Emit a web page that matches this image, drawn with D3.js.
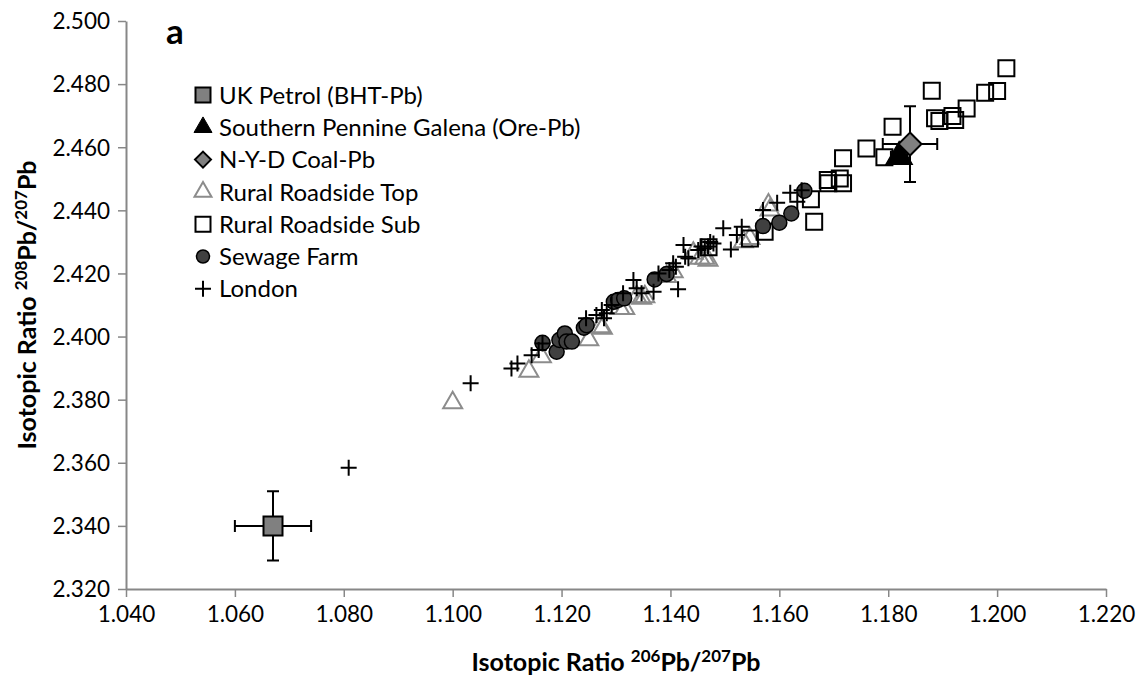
<!DOCTYPE html>
<html><head><meta charset="utf-8">
<script src="https://cdn.jsdelivr.net/npm/d3@7"></script>
<style>
html,body{margin:0;padding:0;background:#fff;}
svg text{font-family:Lato,"Open Sans",sans-serif;fill:#000;}
</style></head>
<body><svg id="chart" width="1144" height="684"></svg>
<script>
// ---- data ----
const xTicks = [1.04,1.06,1.08,1.10,1.12,1.14,1.16,1.18,1.20,1.22];
const yTicks = [2.32,2.34,2.36,2.38,2.40,2.42,2.44,2.46,2.48,2.50];
const seriesNames = ["UK Petrol (BHT-Pb)","Southern Pennine Galena (Ore-Pb)","N-Y-D Coal-Pb","Rural Roadside Top","Rural Roadside Sub","Sewage Farm","London"];

const ukPetrol = [[1.067,2.340,0.007,0.011]];
const pennine = [[1.182,2.457,0.0015,0.0015]];
const nydCoal = [[1.184,2.461,0.005,0.012]];
const ruralTop = [
 [1.100,2.379],[1.114,2.389],[1.1163,2.3936],[1.125,2.399],[1.1271,2.4031],[1.1275,2.4026],
 [1.1307,2.4089],[1.1316,2.4089],[1.1338,2.4126],[1.1347,2.4121],[1.1353,2.4126],[1.1393,2.4190],
 [1.1405,2.4205],[1.1442,2.4264],[1.1454,2.4248],[1.1463,2.4248],[1.1469,2.4242],[1.1534,2.4300],
 [1.1546,2.4311],[1.1580,2.4417],[1.1583,2.4401]];
const ruralSub = [
 [1.2017,2.4850],[1.1880,2.4779],[1.2000,2.4778],[1.1978,2.4773],[1.1944,2.4723],[1.1886,2.4692],
 [1.1894,2.4683],[1.1918,2.4699],[1.1923,2.4686],[1.1808,2.4665],[1.1760,2.4596],[1.1793,2.4568],
 [1.1717,2.4565],[1.1689,2.4496],[1.1711,2.4501],[1.1717,2.4486],[1.1690,2.4486],[1.1658,2.4435],
 [1.1664,2.4364],[1.1573,2.4332],[1.1546,2.4311],[1.1470,2.4283]];
const sewage = [
 [1.1165,2.3980],[1.1191,2.3952],[1.1196,2.3989],[1.1206,2.4010],[1.1209,2.3984],[1.1219,2.3984],
 [1.1241,2.4028],[1.1246,2.4036],[1.1296,2.4110],[1.1304,2.4116],[1.1315,2.4121],[1.1371,2.4181],
 [1.1393,2.4198],[1.1570,2.4350],[1.1600,2.4361],[1.1622,2.4390],[1.1646,2.4462]];
const london = [
 [1.0809,2.3584],[1.1033,2.3852],[1.1108,2.3899],[1.1119,2.3915],[1.1145,2.3941],[1.1158,2.3957],
 [1.1165,2.3978],[1.1245,2.4058],[1.1264,2.4068],[1.1274,2.4084],[1.1278,2.4058],[1.1283,2.4074],
 [1.1292,2.4100],[1.1313,2.4137],[1.1332,2.4179],[1.1338,2.4153],[1.1347,2.4137],[1.1369,2.4142],
 [1.1378,2.4200],[1.1398,2.4211],[1.1405,2.4232],[1.1410,2.4221],[1.1414,2.4150],[1.1424,2.4290],
 [1.1427,2.4253],[1.1433,2.4248],[1.1451,2.4274],[1.1457,2.4285],[1.1463,2.4280],[1.1469,2.4285],
 [1.1473,2.4300],[1.1479,2.4295],[1.1497,2.4343],[1.1511,2.4276],[1.1522,2.4322],[1.1531,2.4348],
 [1.1570,2.4401],[1.1596,2.4424],[1.1620,2.4456],[1.1633,2.4427],[1.1641,2.4464]];

// ---- layout ----
const svg = d3.select("#chart");
const L = 126, R = 1106, T = 21, B = 589;
const x = d3.scaleLinear().domain([1.04,1.22]).range([L,R]);
const y = d3.scaleLinear().domain([2.32,2.50]).range([B,T]);
const axisColor = "#878787";

// axes
const xAxis = svg.append("g").attr("transform",`translate(0,${B})`)
  .call(d3.axisBottom(x).tickValues(xTicks).tickFormat(d3.format(".3f")).tickSize(8).tickSizeOuter(0));
const yAxis = svg.append("g").attr("transform",`translate(${L},0)`)
  .call(d3.axisLeft(y).tickValues(yTicks).tickFormat(d3.format(".3f")).tickSize(8).tickSizeOuter(0));
[xAxis,yAxis].forEach(g=>{
  g.select(".domain").attr("stroke",axisColor).attr("stroke-width",2);
  g.selectAll(".tick line").attr("stroke",axisColor).attr("stroke-width",1.5);
  g.selectAll(".tick text").attr("font-size",22.5).attr("fill","#000").style("font-family","Lato");
});
xAxis.selectAll(".tick text").attr("y",14).attr("dy","0.85em");
yAxis.selectAll(".tick text").attr("x",-16).attr("dy","0.35em");

// symbol paths
function shape(type, s){
  switch(type){
    case "square": return `M${-s/2},${-s/2}h${s}v${s}h${-s}Z`;
    case "tri": { const h=s*Math.sqrt(3)/2; return `M0,${-h*2/3}L${s/2},${h/3}L${-s/2},${h/3}Z`; }
    case "diamond": return `M0,${-s}L${s},0L0,${s}L${-s},0Z`;
    case "plus": return `M${-s},0H${s}M0,${-s}V${s}`;
  }
}
const styles = {
  ukPetrol:{type:"square",size:19,fill:"#808080",stroke:"#000",sw:2},
  pennine:{type:"tri",size:26,fill:"#000",stroke:"#000",sw:1.5},
  nydCoal:{type:"diamond",size:11.5,fill:"#808080",stroke:"#000",sw:2},
  ruralTop:{type:"tri",size:19,fill:"none",stroke:"#8c8c8c",sw:2},
  ruralSub:{type:"square",size:16,fill:"none",stroke:"#000",sw:2},
  sewage:{type:"circle",size:7.5,fill:"#404040",stroke:"#000",sw:1.5},
  london:{type:"plus",size:8,fill:"none",stroke:"#000",sw:2}
};
function drawMarkers(g, data, st, cx, cy){
  const sel = g.selectAll(null).data(data).enter();
  if(st.type==="circle"){
    sel.append("circle").attr("cx",d=>cx(d)).attr("cy",d=>cy(d)).attr("r",st.size)
      .attr("fill",st.fill).attr("stroke",st.stroke).attr("stroke-width",st.sw);
  } else {
    sel.append("path").attr("d",shape(st.type,st.size))
      .attr("transform",d=>`translate(${cx(d)},${cy(d)})`)
      .attr("fill",st.fill).attr("stroke",st.stroke).attr("stroke-width",st.sw);
  }
}
function drawErrors(g, data){
  const cap = 6;
  data.forEach(d=>{
    const px=x(d[0]), py=y(d[1]);
    const x0=x(d[0]-d[2]), x1=x(d[0]+d[2]), y0=y(d[1]-d[3]), y1=y(d[1]+d[3]);
    const p = `M${x0},${py}H${x1}M${x0},${py-cap}V${py+cap}M${x1},${py-cap}V${py+cap}`+
              `M${px},${y0}V${y1}M${px-cap},${y0}H${px+cap}M${px-cap},${y1}H${px+cap}`;
    g.append("path").attr("d",p).attr("stroke","#000").attr("stroke-width",2).attr("fill","none");
  });
}
const plot = svg.append("g");
const fx = d=>x(d[0]), fy = d=>y(d[1]);
drawMarkers(plot.append("g"), ruralTop, styles.ruralTop, fx, fy);
drawMarkers(plot.append("g"), ruralSub, styles.ruralSub, fx, fy);
drawMarkers(plot.append("g"), sewage, styles.sewage, fx, fy);
drawMarkers(plot.append("g"), london, styles.london, fx, fy);
drawErrors(plot.append("g"), pennine);
drawMarkers(plot.append("g"), pennine, styles.pennine, fx, fy);
drawErrors(plot.append("g"), nydCoal);
drawMarkers(plot.append("g"), nydCoal, styles.nydCoal, fx, fy);
drawErrors(plot.append("g"), ukPetrol);
drawMarkers(plot.append("g"), ukPetrol, styles.ukPetrol, fx, fy);

// legend
const legendStyles = [
  {type:"square",size:15,fill:"#808080",stroke:"#000",sw:2},
  {type:"tri",size:18,fill:"#000",stroke:"#000",sw:1},
  {type:"diamond",size:8,fill:"#808080",stroke:"#000",sw:2},
  {type:"tri",size:17,fill:"none",stroke:"#8c8c8c",sw:2},
  {type:"square",size:15,fill:"none",stroke:"#000",sw:2},
  {type:"circle",size:6.5,fill:"#404040",stroke:"#000",sw:1.5},
  {type:"plus",size:8,fill:"none",stroke:"#000",sw:2}
];
const lg = svg.append("g");
seriesNames.forEach((name,i)=>{
  const ly = 95 + i*32.3;
  drawMarkers(lg.append("g"), [0], legendStyles[i], ()=>203, ()=>ly);
  lg.append("text").attr("x",219).attr("y",ly).attr("dy","0.36em").attr("font-size",24).text(name);
});

// panel label
svg.append("text").attr("x",166).attr("y",44).attr("font-size",35).attr("font-weight","bold").text("a");

// axis titles
const xt = svg.append("text").attr("x",616).attr("y",671).attr("text-anchor","middle")
  .attr("font-size",25).attr("font-weight","bold");
xt.append("tspan").text("Isotopic Ratio ");
xt.append("tspan").attr("dy",-9).attr("font-size",17).text("206");
xt.append("tspan").attr("dy",9).text("Pb/");
xt.append("tspan").attr("dy",-9).attr("font-size",17).text("207");
xt.append("tspan").attr("dy",9).text("Pb");

const yt = svg.append("text").attr("transform",`translate(36,${(T+B)/2}) rotate(-90)`).attr("text-anchor","middle")
  .attr("font-size",25).attr("font-weight","bold");
yt.append("tspan").text("Isotopic Ratio ");
yt.append("tspan").attr("dy",-9).attr("font-size",17).text("208");
yt.append("tspan").attr("dy",9).text("Pb/");
yt.append("tspan").attr("dy",-9).attr("font-size",17).text("207");
yt.append("tspan").attr("dy",9).text("Pb");
</script></body></html>
